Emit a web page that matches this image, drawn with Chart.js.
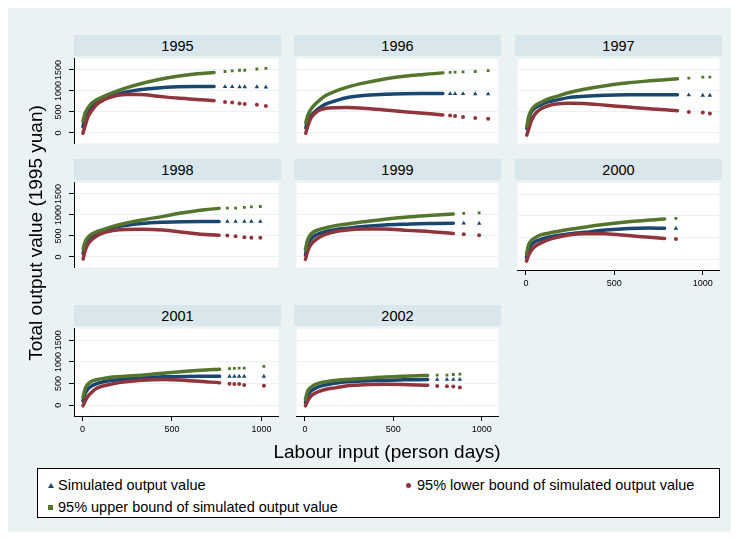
<!DOCTYPE html>
<html>
<head>
<meta charset="utf-8">
<script src="https://cdn.jsdelivr.net/npm/chart.js@4.4.1/dist/chart.umd.min.js"></script>
<style>
  body { margin: 0; background: #fff; font-family: "Liberation Sans", Arial, sans-serif; }
  #graph { position: absolute; left: 8px; top: 8px; width: 723px; height: 524px; background: #eaf2f3; }
  .head { position: absolute; height: 21px; background: #d9e6eb; text-align: center;
          font-size: 14.5px; line-height: 22px; color: #000; }
  canvas { position: absolute; }
  .title { position: absolute; font-size: 19px; color: #000; white-space: nowrap; }
  #legend { position: absolute; left: 37px; top: 468px; width: 683px; height: 50px;
            background: #fff; border: 1px solid #000; box-sizing: border-box; font-size: 14.5px; }
  .item { position: absolute; white-space: nowrap; line-height: 16px; }
  .mk { position: absolute; }
</style>
</head>
<body>
<div id="graph"></div>
<div id="stage"></div>
<script>
// panel titles and axis ticks
const years = ['1995', '1996', '1997', '1998', '1999', '2000', '2001', '2002'];
const yTicks = [0, 500, 1000, 1500];
const xTicks = [0, 500, 1000];

// labour input (x) and the three simulated series per year
const x1995 = [3, 15, 30, 50, 80, 120, 170, 240, 320, 420, 530, 640, 735, 796, 836, 877, 906, 974, 1024];
const sim1995 = [150, 370, 520, 620, 730, 830, 900, 972, 1028, 1072, 1097, 1104, 1104, 1100, 1100, 1095, 1095, 1095, 1090];
const lower1995 = [-7, 170, 370, 520, 680, 790, 865, 912, 912, 873, 830, 798, 768, 738, 724, 701, 686, 671, 642];
const upper1995 = [280, 470, 590, 700, 790, 868, 958, 1065, 1164, 1265, 1352, 1410, 1440, 1462, 1477, 1492, 1492, 1522, 1537];

const x1996 = [5, 15, 30, 50, 80, 120, 170, 240, 330, 450, 560, 670, 780, 821, 849, 894, 963, 1036];
const sim1996 = [119, 280, 385, 480, 590, 690, 760, 843, 893, 920, 933, 938, 940, 932, 932, 932, 930, 925];
const lower1996 = [-7, 150, 320, 440, 540, 585, 600, 604, 589, 548, 505, 470, 428, 415, 403, 380, 358, 336];
const upper1996 = [240, 400, 535, 650, 770, 895, 990, 1090, 1185, 1285, 1350, 1393, 1430, 1440, 1447, 1455, 1462, 1485];

const x1997 = [5, 15, 30, 50, 80, 120, 170, 240, 330, 450, 580, 700, 857, 921, 1000, 1040];
const sim1997 = [100, 306, 490, 590, 660, 735, 780, 840, 872, 896, 908, 910, 910, 903, 895, 895];
const lower1997 = [-52, 82, 280, 440, 560, 640, 690, 708, 700, 660, 615, 575, 530, 500, 485, 463];
const upper1997 = [150, 380, 540, 640, 715, 800, 865, 955, 1040, 1125, 1195, 1240, 1290, 1305, 1328, 1328];

const x1998 = [4, 15, 30, 50, 80, 120, 170, 240, 330, 450, 560, 670, 763, 809, 855, 904, 943, 993];
const sim1998 = [75, 300, 400, 480, 570, 640, 700, 750, 795, 825, 840, 843, 843, 843, 843, 843, 843, 843];
const lower1998 = [-52, 145, 300, 400, 500, 580, 630, 655, 657, 640, 590, 537, 515, 507, 492, 470, 455, 455];
const upper1998 = [190, 360, 460, 540, 600, 655, 728, 800, 880, 965, 1050, 1119, 1156, 1164, 1164, 1179, 1190, 1201];

const x1999 = [3, 15, 30, 50, 80, 120, 170, 240, 330, 450, 580, 700, 839, 898, 985];
const sim1999 = [50, 280, 400, 490, 555, 605, 650, 685, 725, 760, 780, 795, 802, 802, 795];
const lower1999 = [-60, 130, 270, 370, 460, 540, 600, 640, 665, 667, 632, 605, 555, 540, 517];
const upper1999 = [180, 400, 520, 600, 650, 695, 745, 785, 835, 897, 950, 985, 1020, 1035, 1050];

const x2000 = [3, 15, 30, 50, 80, 120, 170, 240, 330, 450, 580, 700, 784, 848];
const sim2000 = [40, 217, 330, 400, 450, 500, 540, 580, 620, 672, 708, 720, 714, 712];
const lower2000 = [-45, 90, 200, 290, 365, 440, 500, 560, 590, 585, 545, 505, 480, 465];
const upper2000 = [120, 330, 430, 490, 555, 595, 635, 685, 740, 805, 865, 903, 930, 945];

const x2001 = [3, 15, 30, 50, 80, 120, 170, 240, 330, 450, 580, 690, 766, 821, 848, 875, 903, 1013];
const sim2001 = [96, 270, 370, 440, 500, 543, 575, 605, 630, 655, 665, 666, 666, 666, 666, 666, 666, 666];
const lower2001 = [-15, 90, 200, 290, 390, 450, 495, 540, 575, 592, 572, 540, 518, 496, 490, 488, 466, 451];
const upper2001 = [180, 380, 480, 550, 590, 620, 650, 670, 690, 740, 785, 815, 829, 843, 852, 858, 858, 895];

const x2002 = [3, 15, 30, 50, 80, 120, 170, 240, 330, 450, 560, 640, 694, 748, 803, 839, 876];
const sim2002 = [60, 200, 310, 370, 430, 470, 505, 540, 560, 572, 585, 590, 592, 592, 592, 592, 592];
const lower2002 = [-15, 90, 190, 260, 320, 370, 400, 450, 470, 481, 478, 468, 459, 444, 440, 429, 407];
const upper2002 = [140, 320, 400, 460, 510, 545, 572, 595, 618, 650, 667, 680, 688, 696, 696, 710, 718];

// last x of the continuous band in each panel; beyond it only single markers
const denseEnd = [735, 780, 857, 763, 839, 784, 766, 694];

const panels = [
  { x: x1995, sim: sim1995, lower: lower1995, upper: upper1995 },
  { x: x1996, sim: sim1996, lower: lower1996, upper: upper1996 },
  { x: x1997, sim: sim1997, lower: lower1997, upper: upper1997 },
  { x: x1998, sim: sim1998, lower: lower1998, upper: upper1998 },
  { x: x1999, sim: sim1999, lower: lower1999, upper: upper1999 },
  { x: x2000, sim: sim2000, lower: lower2000, upper: upper2000 },
  { x: x2001, sim: sim2001, lower: lower2001, upper: upper2001 },
  { x: x2002, sim: sim2002, lower: lower2002, upper: upper2002 },
];

const NAVY = '#1a476f';
const MAROON = '#90353b';
const FOREST = '#55752f';
const FONT = '"Liberation Sans", Arial, sans-serif';

// layout of the 3x3 grid (last cell empty)
const colLeft = [74, 294, 515];
const rowTop = [56, 180, 326];
const PLOT_W = 207;
const PLOT_H = 90;
const Y_AXIS_W = 30;
const X_AXIS_H = 26;

const plotBg = {
  id: 'plotBg',
  beforeDraw(chart) {
    const { ctx, chartArea: a } = chart;
    ctx.save();
    ctx.fillStyle = '#fff';
    ctx.fillRect(a.left, a.top, a.right - a.left, a.bottom - a.top);
    ctx.restore();
  },
};

// vertical tick labels as in Stata
const yLabels = {
  id: 'yLabels',
  afterDraw(chart, args, opts) {
    if (!opts.show) return;
    const { ctx, chartArea, scales: { y } } = chart;
    ctx.save();
    ctx.font = `9px ${FONT}`;
    ctx.fillStyle = '#000';
    ctx.textAlign = 'center';
    ctx.textBaseline = 'middle';
    y.ticks.forEach(t => {
      ctx.save();
      ctx.translate(chartArea.left - 15, y.getPixelForValue(t.value));
      ctx.rotate(-Math.PI / 2);
      ctx.fillText(String(t.value), 0, 0);
      ctx.restore();
    });
    ctx.restore();
  },
};

function series(xs, ys, color, shape, size, cut) {
  return {
    data: xs.map((x, i) => ({ x, y: ys[i] })),
    showLine: true,
    borderColor: color,
    backgroundColor: color,
    borderWidth: 3.5,
    borderCapStyle: 'round',
    cubicInterpolationMode: 'monotone',
    segment: { borderColor: c => (c.p1.parsed.x > cut ? 'rgba(0,0,0,0)' : color) },
    pointStyle: shape,
    pointRadius: c => (c.parsed && c.parsed.x > cut ? size : 0),
    pointBorderWidth: 0,
    pointHoverRadius: 0,
  };
}

const stage = document.getElementById('stage');

panels.forEach((p, i) => {
  const col = i % 3;
  const row = Math.floor(i / 3);
  const showY = col === 0;
  const showX = i >= 5;
  const left = colLeft[col];
  const top = rowTop[row];

  const head = document.createElement('div');
  head.className = 'head';
  head.style.left = left + 'px';
  head.style.top = (top - 21) + 'px';
  head.style.width = PLOT_W + 'px';
  head.textContent = years[i];
  stage.appendChild(head);

  const yw = showY ? Y_AXIS_W : 0;
  const xh = showX ? X_AXIS_H : 0;
  const canvas = document.createElement('canvas');
  canvas.width = PLOT_W + yw;
  canvas.height = PLOT_H + xh;
  canvas.style.left = (left - yw) + 'px';
  canvas.style.top = top + 'px';
  stage.appendChild(canvas);

  const cut = denseEnd[i];
  new Chart(canvas.getContext('2d'), {
    type: 'scatter',
    data: {
      datasets: [
        series(p.x, p.upper, FOREST, 'rect', 2, cut),
        series(p.x, p.lower, MAROON, 'circle', 2, cut),
        series(p.x, p.sim, NAVY, 'triangle', 2.6, cut),
      ],
    },
    plugins: [plotBg, yLabels],
    options: {
      responsive: false,
      animation: false,
      events: [],
      layout: { padding: 0 },
      plugins: {
        legend: { display: false },
        tooltip: { enabled: false },
        yLabels: { show: showY },
      },
      scales: {
        x: {
          type: 'linear',
          display: showX,
          min: -47,
          max: 1094,
          afterBuildTicks: s => { s.ticks = xTicks.map(v => ({ value: v })); },
          afterFit: s => { s.height = xh; s.paddingLeft = 0; s.paddingRight = 0; },
          grid: { drawOnChartArea: false, tickLength: 5, tickColor: '#000' },
          border: { color: '#000', width: 1 },
          ticks: { padding: 3, color: '#000', font: { size: 9, family: FONT }, maxRotation: 0,
                   callback: v => String(v) },
        },
        y: {
          type: 'linear',
          min: -250,
          max: 1770,
          afterBuildTicks: s => { s.ticks = yTicks.map(v => ({ value: v })); },
          afterFit: s => { s.width = yw; s.paddingTop = 0; s.paddingBottom = 0; },
          grid: { color: '#eaf2f3', lineWidth: 1, drawTicks: showY, tickLength: 5, tickColor: '#000' },
          border: { display: showY, color: '#000', width: 1 },
          ticks: { display: false },
        },
      },
    },
  });
});

// axis titles
const yTitle = document.createElement('div');
yTitle.className = 'title';
yTitle.textContent = 'Total output value (1995 yuan)';
yTitle.style.left = '36px';
yTitle.style.top = '233px';
yTitle.style.transform = 'translate(-50%, -50%) rotate(-90deg)';
stage.appendChild(yTitle);

const xTitle = document.createElement('div');
xTitle.className = 'title';
xTitle.textContent = 'Labour input (person days)';
xTitle.style.left = '387px';
xTitle.style.top = '452px';
xTitle.style.transform = 'translate(-50%, -50%)';
stage.appendChild(xTitle);

// legend
const legendItems = [
  { label: 'Simulated output value', color: NAVY, shape: 'triangle', x: 20, y: 8 },
  { label: '95% lower bound of simulated output value', color: MAROON, shape: 'circle', x: 379, y: 8 },
  { label: '95% upper bound of simulated output value', color: FOREST, shape: 'rect', x: 20, y: 30 },
];
const legend = document.createElement('div');
legend.id = 'legend';
legendItems.forEach(it => {
  const mk = document.createElement('div');
  mk.className = 'mk';
  if (it.shape === 'triangle') {
    mk.style.cssText = `left:${it.x - 10}px;top:${it.y + 6}px;width:0;height:0;` +
      `border-left:3px solid transparent;border-right:3px solid transparent;border-bottom:5px solid ${it.color};`;
  } else if (it.shape === 'circle') {
    mk.style.cssText = `left:${it.x - 11}px;top:${it.y + 6}px;width:5px;height:5px;border-radius:50%;background:${it.color};`;
  } else {
    mk.style.cssText = `left:${it.x - 10}px;top:${it.y + 6}px;width:5px;height:5px;background:${it.color};`;
  }
  legend.appendChild(mk);
  const t = document.createElement('div');
  t.className = 'item';
  t.style.left = it.x + 'px';
  t.style.top = it.y + 'px';
  t.textContent = it.label;
  legend.appendChild(t);
});
stage.appendChild(legend);
</script>
</body>
</html>
